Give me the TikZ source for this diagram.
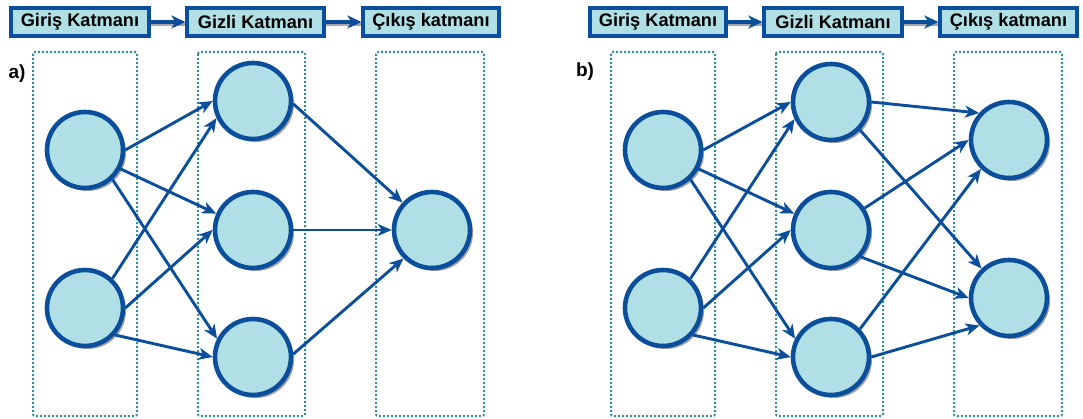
\documentclass[tikz,border=0pt]{standalone}
\usepackage{fontspec}
\setmainfont{Liberation Sans}
\usetikzlibrary{arrows.meta,shadows}
\definecolor{nodefill}{HTML}{B0E0E6}
\definecolor{nodeline}{HTML}{0B4F9C}
\definecolor{layerline}{HTML}{2E8F96}
\tikzset{
  neuron/.style={circle, draw=nodeline, fill=nodefill, line width=4.6pt,
    minimum size=76pt, inner sep=0pt,
    drop shadow={shadow xshift=3pt, shadow yshift=-3pt, fill=black!45, opacity=0.8}},
  layerbox/.style={draw=layerline, line width=2pt, dotted, rounded corners=2pt},
  titlebox/.style={draw=nodeline, fill=nodefill, line width=3.2pt, minimum height=28pt,
    inner sep=0pt, font=\fontsize{18.2}{20}\selectfont\bfseries,
    drop shadow={shadow xshift=2pt, shadow yshift=-2pt, fill=black!35, opacity=0.7}},
  link/.style={draw=nodeline, line width=2.9pt, -{Stealth[length=14pt,width=12pt,inset=4pt]}},
  titlelink/.style={draw=nodeline, line width=3.2pt, -{Stealth[length=14pt,width=13pt,inset=4pt]},
    preaction={draw=black!35, line width=3pt, -{}, transform canvas={yshift=-2.5pt}}},
  panel/.style={font=\fontsize{19}{21}\selectfont\bfseries}
}
\begin{document}
\begin{tikzpicture}[x=1pt, y=-1pt]
\useasboundingbox (0,0) rectangle (1083,419);

% ---------- panel a ----------
\node[titlebox, minimum width=138pt] (ta1) at (80,22) {Giriş Katmanı};
\node[titlebox, minimum width=137pt] (ta2) at (255.5,22) {Gizli Katmanı};
\node[titlebox, minimum width=136pt] (ta3) at (431,22) {Çıkış katmanı};
\draw[titlelink] (ta1) -- (ta2);
\draw[titlelink] (ta2) -- (ta3);

\draw[layerbox] (33,52) rectangle (137,416);
\draw[layerbox] (198,52) rectangle (305,416);
\draw[layerbox] (376,52) rectangle (484,416);

\node[panel] (la) at (17,74) {a)};

\node[neuron] (ai1) at (85,150) {};
\node[neuron] (ai2) at (85,308) {};
\node[neuron] (ah1) at (253,101) {};
\node[neuron] (ah2) at (253,230) {};
\node[neuron] (ah3) at (253,357) {};
\node[neuron] (ao)  at (432,230) {};

\draw[link] (ai1.east) -- (ah1.west);
\draw[link] (ai1.-28) -- (ah2.156);
\draw[link] (ai1.-47) -- (ah3.153);
\draw[link] (ai2.47) -- (ah1.205);
\draw[link] (ai2.east) -- (ah2.west);
\draw[link] (ai2.-42) -- (ah3.west);
\draw[link] (ah1.-4) -- (ao.137);
\draw[link] (ah2.east) -- (ao.west);
\draw[link] (ah3.4) -- (ao.225);

% ---------- panel b ----------
\node[titlebox, minimum width=136pt] (tb1) at (658,22) {Giriş Katmanı};
\node[titlebox, minimum width=138pt] (tb2) at (833,22) {Gizli Katmanı};
\node[titlebox, minimum width=137pt] (tb3) at (1008.5,22) {Çıkış katmanı};
\draw[titlelink] (tb1) -- (tb2);
\draw[titlelink] (tb2) -- (tb3);

\draw[layerbox] (611,52) rectangle (715,416);
\draw[layerbox] (776,52) rectangle (883,416);
\draw[layerbox] (954,52) rectangle (1062,416);

\node[panel] (lb) at (585,72) {b)};

\node[neuron] (bi1) at (663,150) {};
\node[neuron] (bi2) at (663,308) {};
\node[neuron] (bh1) at (831,102) {};
\node[neuron] (bh2) at (831,230) {};
\node[neuron] (bh3) at (831,357) {};
\node[neuron] (bo1) at (1009,140) {};
\node[neuron] (bo2) at (1009,298) {};

\draw[link] (bi1.east) -- (bh1.west);
\draw[link] (bi1.-28) -- (bh2.156);
\draw[link] (bi1.-47) -- (bh3.153);
\draw[link] (bi2.47) -- (bh1.205);
\draw[link] (bi2.east) -- (bh2.west);
\draw[link] (bi2.-42) -- (bh3.west);
\draw[link] (bh1.east) -- (bo1.138);
\draw[link] (bh1.-44) -- (bo2.133);
\draw[link] (bh2.33) -- (bo1.west);
\draw[link] (bh2.-42) -- (bo2.west);
\draw[link] (bh3.44) -- (bo1.226);
\draw[link] (bh3.east) -- (bo2.223);
\end{tikzpicture}
\end{document}
